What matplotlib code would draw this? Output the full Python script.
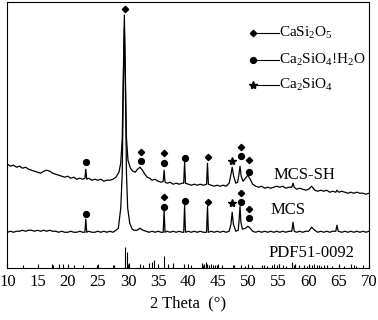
import matplotlib
matplotlib.use("Agg")
import matplotlib.pyplot as plt
from matplotlib.ticker import MultipleLocator

plt.rcParams["font.family"] = ["Liberation Serif", "DejaVu Serif"]
plt.rcParams["mathtext.fontset"] = "custom"
plt.rcParams["mathtext.rm"] = "Liberation Serif"
plt.rcParams["mathtext.it"] = "Liberation Serif:italic"

# ── XRD traces (2θ, intensity a.u.) ──────────────────────────────────────────
sh_2theta = [
    10.0, 10.5, 11.0, 11.5, 12.0, 12.5, 13.0, 13.5, 14.0, 14.5,
    15.0, 15.5, 16.0, 16.5, 17.0, 17.5, 18.0, 18.5, 19.0, 19.5,
    20.0, 20.5, 21.0, 21.5, 22.0, 22.5, 22.85, 23.0, 23.15, 23.5,
    24.0, 24.5, 25.0, 25.5, 26.0, 26.5, 27.0, 27.5, 28.0, 28.5,
    28.8, 29.05, 29.25, 29.4, 29.55, 29.75, 30.0, 30.4, 30.8, 31.2,
    31.6, 32.0, 32.4, 32.8, 33.2, 33.6, 34.0, 34.5, 35.0, 35.5,
    35.85, 36.0, 36.15, 36.5, 37.0, 37.5, 38.0, 38.5, 39.0, 39.25,
    39.4, 39.55, 40.0, 40.5, 41.0, 41.5, 42.0, 42.5, 43.05, 43.2,
    43.35, 43.8, 44.3, 44.8, 45.3, 45.8, 46.3, 46.8, 47.1, 47.3,
    47.55, 47.9, 48.2, 48.4, 48.6, 48.8, 49.1, 49.5, 49.9, 50.3,
    50.7, 51.2, 51.7, 52.2, 52.7, 53.2, 53.7, 54.2, 54.7, 55.2,
    55.7, 56.2, 56.7, 57.2, 57.4, 57.6, 58.0, 58.5, 59.0, 59.5,
    60.0, 60.5, 61.0, 61.5, 62.0, 62.5, 63.0, 63.5, 64.0, 64.5,
    64.7, 65.0, 65.5, 66.0, 66.5, 67.0, 67.5, 68.0, 68.5, 69.0,
    69.5, 70.0,
]
sh_counts = [
    104, 102, 103, 101, 102, 100, 101, 99, 98, 97,
    96, 95, 97, 98, 97, 95, 94, 93, 92, 91,
    92, 90, 91, 89, 90, 89, 90, 99, 89, 90,
    88, 89, 88, 89, 87, 88, 88, 89, 91, 96,
    105, 130, 200, 253, 200, 130, 108, 100, 97, 96,
    99, 101, 98, 94, 91, 90, 88, 89, 87, 86,
    87, 98, 86, 85, 86, 84, 85, 84, 85, 85,
    106, 85, 84, 83, 84, 83, 84, 83, 84, 105,
    84, 83, 82, 83, 82, 83, 82, 85, 94, 101,
    92, 85, 86, 93, 102, 92, 87, 90, 93, 89,
    84, 82, 81, 82, 80, 81, 80, 81, 82, 81,
    82, 80, 81, 81, 85, 81, 79, 80, 79, 78,
    79, 82, 78, 77, 78, 77, 78, 76, 77, 76,
    78, 76, 77, 76, 75, 76, 75, 76, 75, 75,
    74, 75,
]

mcs_2theta = [
    10.0, 10.5, 11.0, 11.5, 12.0, 12.5, 13.0, 13.5, 14.0, 14.5,
    15.0, 15.5, 16.0, 16.5, 17.0, 17.5, 18.0, 18.5, 19.0, 19.5,
    20.0, 20.5, 21.0, 21.5, 22.0, 22.5, 22.85, 23.0, 23.15, 23.5,
    24.0, 24.5, 25.0, 25.5, 26.0, 26.5, 27.0, 27.5, 28.0, 28.4,
    28.8, 29.05, 29.25, 29.4, 29.55, 29.75, 29.95, 30.3, 30.7, 31.0,
    31.5, 32.0, 32.5, 33.0, 33.5, 34.0, 34.5, 35.0, 35.5, 35.85,
    36.0, 36.15, 36.5, 37.0, 37.5, 38.0, 38.5, 39.0, 39.25, 39.4,
    39.55, 40.0, 40.5, 41.0, 41.5, 42.0, 42.5, 43.05, 43.2, 43.35,
    43.8, 44.3, 44.8, 45.3, 45.8, 46.3, 46.8, 47.1, 47.3, 47.5,
    47.9, 48.3, 48.45, 48.6, 48.75, 49.0, 49.5, 49.9, 50.3, 50.7,
    51.2, 51.7, 52.2, 52.7, 53.2, 53.7, 54.2, 54.7, 55.2, 55.7,
    56.2, 56.7, 57.2, 57.4, 57.6, 58.0, 58.5, 59.0, 59.5, 60.0,
    60.5, 61.0, 61.5, 62.0, 62.5, 63.0, 63.5, 64.0, 64.5, 64.7,
    64.9, 65.5, 66.0, 66.5, 67.0, 67.5, 68.0, 68.5, 69.0, 69.5,
    70.0,
]
mcs_counts = [
    36, 37, 36, 37, 37, 38, 37, 38, 38, 37,
    38, 37, 38, 37, 38, 37, 37, 36, 37, 36,
    36, 37, 36, 36, 37, 36, 36, 49, 36, 37,
    36, 36, 37, 36, 37, 36, 37, 36, 38, 40,
    60, 95, 190, 240, 190, 95, 60, 45, 39, 38,
    38, 40, 38, 37, 36, 37, 36, 37, 36, 36,
    58, 36, 37, 36, 37, 36, 37, 36, 36, 63,
    36, 37, 36, 37, 36, 37, 36, 36, 62, 36,
    37, 36, 37, 36, 37, 36, 37, 44, 56, 44,
    37, 38, 48, 62, 46, 39, 40, 42, 40, 37,
    36, 37, 36, 37, 36, 37, 36, 37, 36, 37,
    36, 37, 37, 46, 37, 36, 37, 36, 37, 37,
    41, 38, 36, 37, 36, 37, 36, 37, 37, 43,
    37, 36, 37, 36, 37, 36, 37, 36, 37, 36,
    37,
]

# PDF 51-0092 reference lines
pdf_2theta = [
    17.45, 18.56, 19.2, 21.0, 24.8, 27.6, 29.5, 29.8, 30.2, 32.0,
    33.5, 33.95, 34.3, 36.05, 36.7, 37.55, 39.3, 40.4, 42.3, 42.6,
    42.9, 43.2, 43.5, 43.8, 44.1, 44.4, 44.8, 45.6, 47.6, 48.7,
    49.5, 50.6, 52.3, 53.0, 53.9, 54.3, 54.7, 55.05, 55.8, 56.3,
    57.3, 57.7, 58.4, 59.3, 59.7, 60.1, 60.5, 60.9, 61.3, 61.7,
    62.0, 63.1, 63.9, 65.05, 65.9, 67.0, 67.8, 68.95,
]
pdf_height = [
    4, 4, 4, 3, 3, 3, 21, 16, 5, 4,
    5, 6, 8, 12, 4, 5, 4, 3, 5, 4,
    6, 4, 3, 4, 3, 3, 3, 3, 3, 3,
    2, 3, 3, 2, 3, 4, 3, 4, 3, 2,
    6, 4, 3, 3, 2, 3, 3, 4, 3, 3,
    2, 3, 2, 3, 2, 4, 2, 3,
]

# phase markers: (2θ, height) for each phase
diamond_2theta = [29.45, 32.1, 36.0, 43.3, 48.7, 50.05, 36.0, 43.25, 48.7, 50.05]
diamond_height = [259, 116, 115, 111, 121, 108, 71, 66, 75, 59]
circle_2theta = [23.0, 32.1, 36.0, 39.45, 48.7, 50.05, 23.0, 36.0, 39.45, 48.7, 50.05]
circle_height = [106, 107, 105, 110, 112, 96, 54, 61, 67, 66, 50]
star_2theta = [47.35, 47.35]
star_height = [107, 65]

legend_labels = [r"CaSi$_2$O$_5$", r"Ca$_2$SiO$_4$!H$_2$O", r"Ca$_2$SiO$_4$"]

fig = plt.figure(figsize=(3.78, 3.2), dpi=100)
ax = fig.add_axes([0.0198, 0.1616, 0.9562, 0.832])

ax.plot(sh_2theta, sh_counts, color="black", lw=0.9)
ax.plot(mcs_2theta, mcs_counts, color="black", lw=0.9)
ax.vlines(pdf_2theta, 0, pdf_height, color="black", lw=0.8)

ax.plot(diamond_2theta, diamond_height, "D", color="black", ms=3.2, ls="none")
ax.plot(circle_2theta, circle_height, "o", color="black", ms=4.2, ls="none")
ax.plot(star_2theta, star_height, "*", color="black", ms=6, ls="none")

# hand-drawn style legend
for mk, ms, yy, lab in zip(["D", "o", "*"], [3.2, 4.2, 6], [235, 208, 183], legend_labels):
    ax.plot([50.8], [yy], mk, color="black", ms=ms)
    ax.plot([51.2, 55.1], [yy, yy], color="black", lw=0.8)
    ax.text(55.15, yy, lab, fontsize=11, va="center", ha="left")

ax.text(54.1, 93, "MCS-SH", fontsize=12, va="center", ha="left")
ax.text(53.6, 58, "MCS", fontsize=12, va="center", ha="left")
ax.text(53.3, 15, "PDF51-0092", fontsize=12, va="center", ha="left")

ax.set_xlim(10, 70)
ax.set_ylim(0, 266)
ax.xaxis.set_major_locator(MultipleLocator(5))
ax.xaxis.set_minor_locator(MultipleLocator(2.5))
ax.tick_params(axis="x", which="major", direction="in", length=3, width=0.8,
               labelsize=12, pad=4)
ax.tick_params(axis="x", which="minor", direction="in", length=2, width=0.8)
ax.set_yticks([])
for sp in ax.spines.values():
    sp.set_linewidth(0.8)
ax.set_xlabel("2 Theta  (°)", fontsize=12, labelpad=4)

fig.savefig("out.png", dpi=100)
